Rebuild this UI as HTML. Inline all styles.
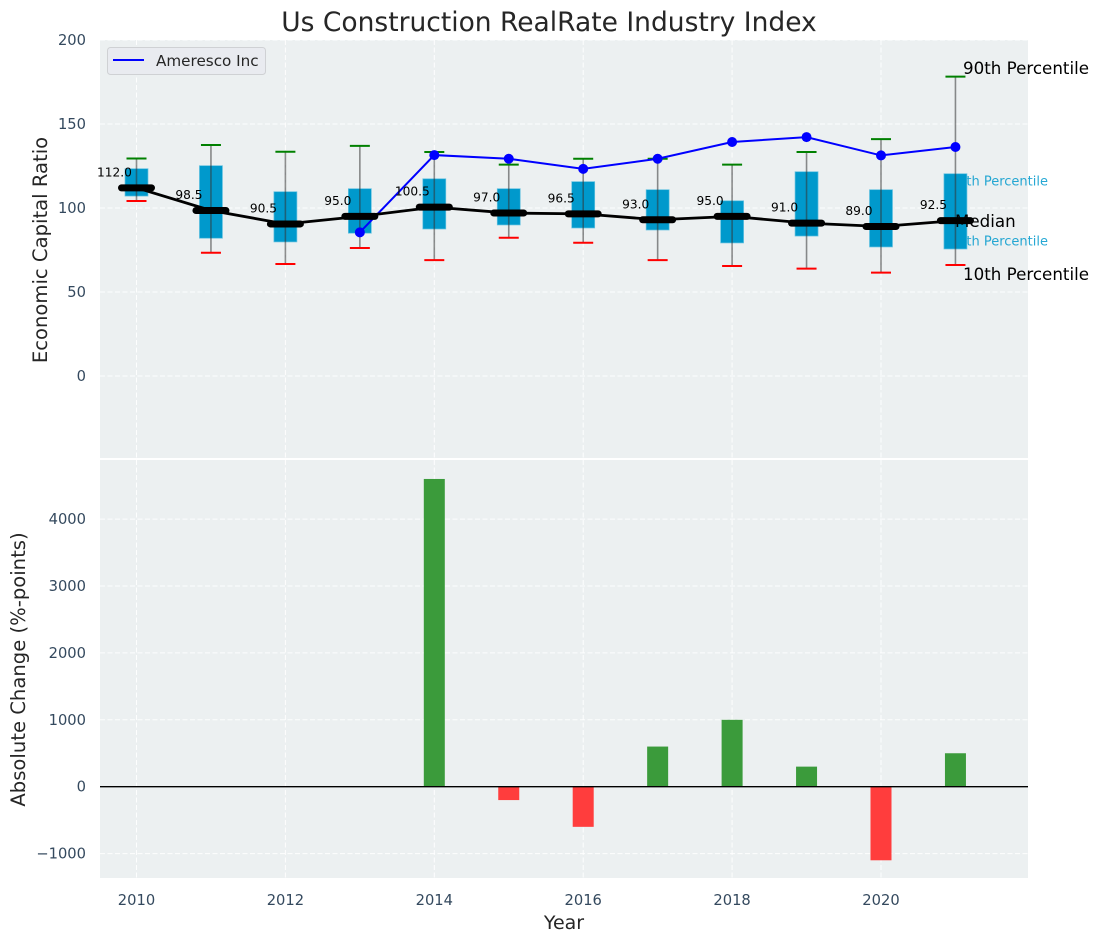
<!DOCTYPE html>
<html lang="en">
<head>
<meta charset="utf-8">
<title>Us Construction RealRate Industry Index</title>
<style>
html,body{margin:0;padding:0;background:#fff;}
body{width:1098px;height:942px;overflow:hidden;}
svg{display:block;font-family:"DejaVu Sans","Liberation Sans",sans-serif;}
</style>
</head>
<body>
<svg id="chart" xmlns="http://www.w3.org/2000/svg" width="1098" height="942" viewBox="0 0 1098 942">
  <text x="549" y="31" text-anchor="middle" font-size="26.500" fill="#262626">Us Construction RealRate Industry Index</text>
  <rect x="100" y="40" width="928" height="418" fill="#ecf0f1"/>
  <rect x="100" y="460" width="928" height="418" fill="#ecf0f1"/>
  <g id="grid"></g>
  <g id="ticks"></g>
  <text transform="translate(47,250) rotate(-90)" text-anchor="middle" font-size="19.600" fill="#262626">Economic Capital Ratio</text>
  <text transform="translate(25,669.500) rotate(-90)" text-anchor="middle" font-size="19.600" fill="#262626">Absolute Change (%-points)</text>
  <text x="564" y="929" text-anchor="middle" font-size="19" fill="#262626">Year</text>
  <g>
    <text x="1048" y="185.500" text-anchor="end" font-size="13" fill="#0099cc" fill-opacity="0.85">75th Percentile</text>
    <text x="1048" y="245.500" text-anchor="end" font-size="13" fill="#0099cc" fill-opacity="0.85">25th Percentile</text>
  </g>
  <g id="marks-lower"></g>
  <g>
    <text x="963" y="74" font-size="16.700" fill="#000">90th Percentile</text>
    <text x="955" y="227" font-size="16.700" fill="#000">Median</text>
    <text x="963" y="280" font-size="16.700" fill="#000">10th Percentile</text>
  </g>
  <g id="marks"></g>
  <g>
    <rect x="107.500" y="47.500" width="158" height="27" rx="3" fill="#e9ebf0" stroke="#cfd1d4"/>
    <line x1="113" y1="60" x2="144" y2="60" stroke="#0000ff" stroke-width="2"/>
    <text x="156" y="66" font-size="15.200" fill="#262626">Ameresco Inc</text>
  </g>
</svg>
<script>
const years = [2010,2011,2012,2013,2014,2015,2016,2017,2018,2019,2020,2021];
const p90 = [129.5,137.5,133.5,137,133.3,125.8,129.3,129.3,125.8,133.3,141,178.2];
const p75 = [123.4,125.2,109.7,111.5,117.4,111.5,115.7,110.9,104.3,121.6,110.9,120.4];
const median = [112,98.5,90.5,95,100.5,97,96.5,93,95,91,89,92.5];
const p25 = [107.1,82,79.8,85,87.5,89.9,88.1,86.9,79.2,83.3,76.8,75.6];
const p10 = [104.2,73.4,66.7,76.2,69,82.3,79.3,69,65.5,63.9,61.5,66.1];
const ameresco = [null,null,null,85.5,131.5,129.3,123.3,129.3,139.3,142.2,131.3,136.3];
const changes = [null,null,null,null,4600,-200,-600,600,1000,300,-1100,500];
const xTicks = [2010,2012,2014,2016,2018,2020];
const topYTicks = [0,50,100,150,200];
const bottomYTicks = [-1000,0,1000,2000,3000,4000];

const NS = 'http://www.w3.org/2000/svg';
function X(year){ return 136.5 + (year - 2010) * 74.45; }
function YT(v){ return 376 - v * 1.68; }
function YB(v){ return 786.7 - v * 0.0669; }
function make(parent, tag, attrs, text){
  const el = document.createElementNS(NS, tag);
  for (const k in attrs) el.setAttribute(k, attrs[k]);
  if (text !== undefined) el.textContent = text;
  parent.appendChild(el);
  return el;
}
const grid = document.getElementById('grid');
const ticks = document.getElementById('ticks');
const lower = document.getElementById('marks-lower');
const marks = document.getElementById('marks');
const gridStyle = {stroke:'#ffffff','stroke-width':1,'stroke-dasharray':'5 2.5','stroke-opacity':0.9};

xTicks.forEach(function(t){
  const a = make(grid,'line',Object.assign({x1:X(t),x2:X(t),y1:40,y2:458},gridStyle));
  
  
  const b = make(grid,'line',Object.assign({x1:X(t),x2:X(t),y1:460,y2:878},gridStyle));
  
  
  const l = make(ticks,'text',{x:X(t),y:905,'text-anchor':'middle','font-size':14.7,fill:'#34495e'},String(t));
  
  
});
topYTicks.forEach(function(t){
  const g = make(grid,'line',Object.assign({x1:100,x2:1028,y1:YT(t),y2:YT(t)},gridStyle));
  
  
  const l = make(ticks,'text',{x:86,y:YT(t)+5,'text-anchor':'end','font-size':14.7,fill:'#34495e'},String(t));
  
  
});
bottomYTicks.forEach(function(t){
  const g = make(grid,'line',Object.assign({x1:100,x2:1028,y1:YB(t),y2:YB(t)},gridStyle));
  
  
  const l = make(ticks,'text',{x:86,y:YB(t)+5,'text-anchor':'end','font-size':14.7,fill:'#34495e'},String(t).replace('-','\u2212'));
  
  
});

years.forEach(function(yr,i){
  const x = X(yr);
  const box = make(lower,'rect',{x:x-11.5,y:YT(p75[i]),width:23,height:YT(p25[i])-YT(p75[i]),fill:'#0099cc',stroke:'#66c2e0','stroke-width':0.7});
  
  
  const w = make(lower,'line',{x1:x,x2:x,y1:YT(p90[i]),y2:YT(p10[i]),stroke:'#333','stroke-opacity':0.55,'stroke-width':1.6});
  
  
  const c1 = make(lower,'line',{x1:x-10,x2:x+10,y1:YT(p90[i]),y2:YT(p90[i]),stroke:'#008000','stroke-width':2});
  
  
  const c2 = make(lower,'line',{x1:x-10,x2:x+10,y1:YT(p10[i]),y2:YT(p10[i]),stroke:'#ff0000','stroke-width':2});
  
  
});

const bluePts = [];
years.forEach(function(yr,i){ if (ameresco[i] !== null) bluePts.push(X(yr)+','+YT(ameresco[i])); });
const blue = make(marks,'polyline',{points:bluePts.join(' '),fill:'none',stroke:'#0000ff','stroke-width':2});


years.forEach(function(yr,i){
  if (ameresco[i] === null) return;
  const p = make(marks,'circle',{cx:X(yr),cy:YT(ameresco[i]),r:5,fill:'#0000ff'});
  
  
});

const medLine = make(marks,'polyline',{points:years.map(function(yr,i){return X(yr)+','+YT(median[i]);}).join(' '),fill:'none',stroke:'#000','stroke-width':2.8});


years.forEach(function(yr,i){
  const x = X(yr), y = YT(median[i]);
  const m = make(marks,'line',{x1:x-15,x2:x+15,y1:y,y2:y,stroke:'#000','stroke-width':7,'stroke-linecap':'round'});
  
  
  const t = make(marks,'text',{x:x-22,y:y-11.5,'text-anchor':'middle','font-size':12.2,fill:'#000'},median[i].toFixed(1));
  
  
});

years.forEach(function(yr,i){
  if (changes[i] === null) return;
  const v = changes[i];
  const top = Math.min(YB(v), YB(0));
  const h = Math.abs(YB(v) - YB(0));
  const b = make(marks,'rect',{x:X(yr)-10.5,y:top,width:21,height:h,fill:v >= 0 ? '#3b9b3b' : '#ff3d3d'});
  
  
});
const zero = make(marks,'line',{x1:100,x2:1028,y1:YB(0),y2:YB(0),stroke:'#000','stroke-width':1.4});


</script>
</body>
</html>
